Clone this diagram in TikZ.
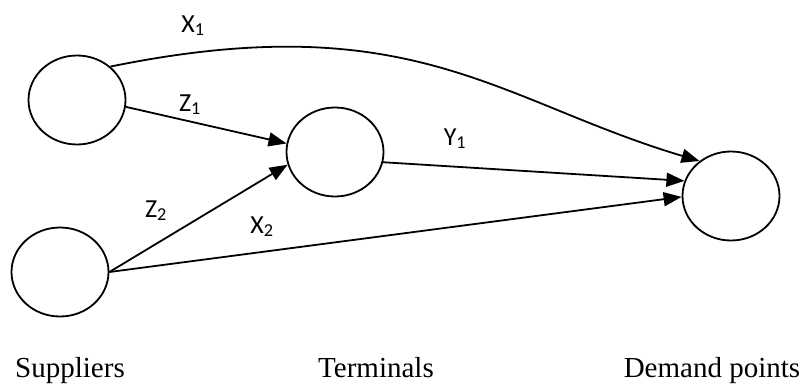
\documentclass[tikz,border=0pt]{standalone}
\usepackage{fontspec}
\setmainfont{Liberation Serif}
\newfontfamily\lblfont{Carlito}
\usetikzlibrary{shapes.geometric,arrows.meta}
\tikzset{
  place/.style={draw, ellipse, line width=1.8pt, minimum width=97pt, minimum height=89pt, inner sep=0pt},
  flow/.style={line width=1.8pt, -{Triangle[length=18pt,width=14pt]}},
  flowlbl/.style={anchor=base, inner sep=0pt, font=\lblfont\fontsize{26}{30}\selectfont},
  caption/.style={anchor=base, inner sep=0pt, font=\fontsize{29}{34}\selectfont}
}
\begin{document}
\begin{tikzpicture}[x=1pt,y=-1pt]
\useasboundingbox (0,0) rectangle (807,388);
\node[place] (s1) at (77,100) {};
\node[place] (s2) at (60,272) {};
\node[place] (t) at (335,152) {};
\node[place] (d) at (731,196) {};

\draw[flow] (s1.45) .. controls (412,5) and (498,101) .. (d.132);
\draw[flow] (s1.-8) -- (t.170);
\draw[flow] (s2.east) -- (t.195);
\draw[flow] (s2.east) -- (d.181);
\draw[flow] (t.-12) -- (d.162);

\node[flowlbl] (lx1) at (193,32) {X\textsubscript{1}};
\node[flowlbl] (lz1) at (190,111) {Z\textsubscript{1}};
\node[flowlbl] (lz2) at (156,217) {Z\textsubscript{2}};
\node[flowlbl] (lx2) at (262,233) {X\textsubscript{2}};
\node[flowlbl] (ly1) at (455,145) {Y\textsubscript{1}};

\node[caption] (cs) at (70,377) {Suppliers};
\node[caption] (ct) at (376,377) {Terminals};
\node[caption] (cd) at (712,377) {Demand points};
\end{tikzpicture}
\end{document}
